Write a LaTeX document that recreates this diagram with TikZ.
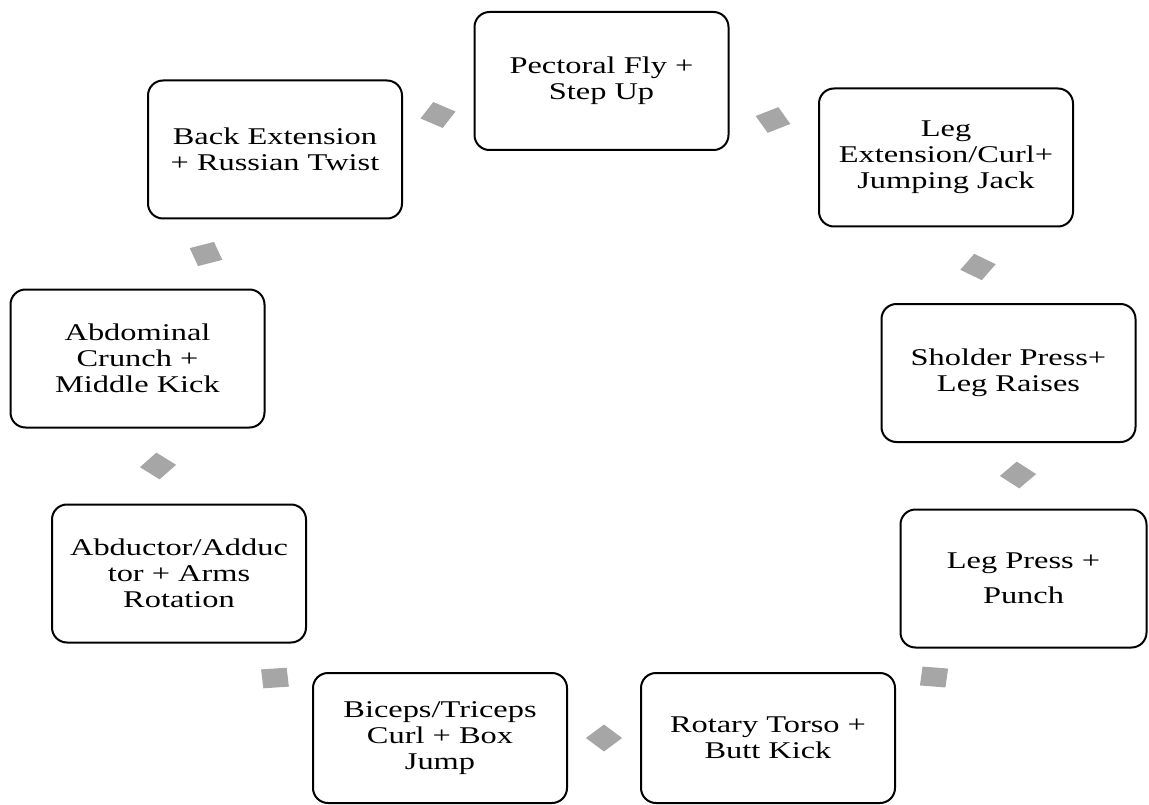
\documentclass[tikz,border=0pt]{standalone}
\usepackage{fontspec}
\setmainfont{Liberation Serif}[FakeStretch=1.35]
\definecolor{gemgray}{RGB}{166,166,166}
\tikzset{
  stepbox/.style={draw=black, line width=2pt, rounded corners=15pt, fill=white,
    align=center, inner sep=2pt, minimum width=254pt, minimum height=138pt,
    font=\fontsize{24}{26}\selectfont},
  gemfill/.style={fill=gemgray, draw=none}
}
\newcommand\gemmark[2]{\fill[gemfill, shift={#1}, xscale=1.35, rotate=#2]
  (-9.5,-9.5) -- (9.5,-9.5) -- (9.5,9.5) -- (-9.5,9.5) -- cycle;}
\begin{document}
\begin{tikzpicture}[x=1pt, y=-1pt]
\useasboundingbox (0,0) rectangle (1149,805);
\node[stepbox] (b1) at (601.5,81) {Pectoral Fly +\\Step Up};
\node[stepbox] (b2) at (946,157.5) {Leg\\Extension/Curl+\\Jumping Jack};
\node[stepbox] (b3) at (1008.5,373) {Sholder Press+\\Leg Raises};
\node[stepbox, minimum width=246pt] (b4) at (1023.5,578.5) {Leg Press +\\[9pt]Punch};
\node[stepbox, minimum height=130pt] (b5) at (768,738) {Rotary Torso +\\Butt Kick};
\node[stepbox, minimum height=130pt] (b6) at (440,738) {Biceps/Triceps\\Curl + Box\\Jump};
\node[stepbox] (b7) at (179,573.5) {Abductor/Adduc\\tor + Arms\\Rotation};
\node[stepbox] (b8) at (137.5,358.5) {Abdominal\\Crunch +\\Middle Kick};
\node[stepbox] (b9) at (275,149.5) {Back Extension\\+ Russian Twist};
\gemmark{(438,115)}{60}
\gemmark{(773,120)}{28}
\gemmark{(978,267)}{-33}
\gemmark{(1018,475)}{-41}
\gemmark{(934,677)}{-6}
\gemmark{(604,738)}{45}
\gemmark{(275,678)}{5}
\gemmark{(158,466)}{50}
\gemmark{(206,254)}{19}
\end{tikzpicture}
\end{document}
